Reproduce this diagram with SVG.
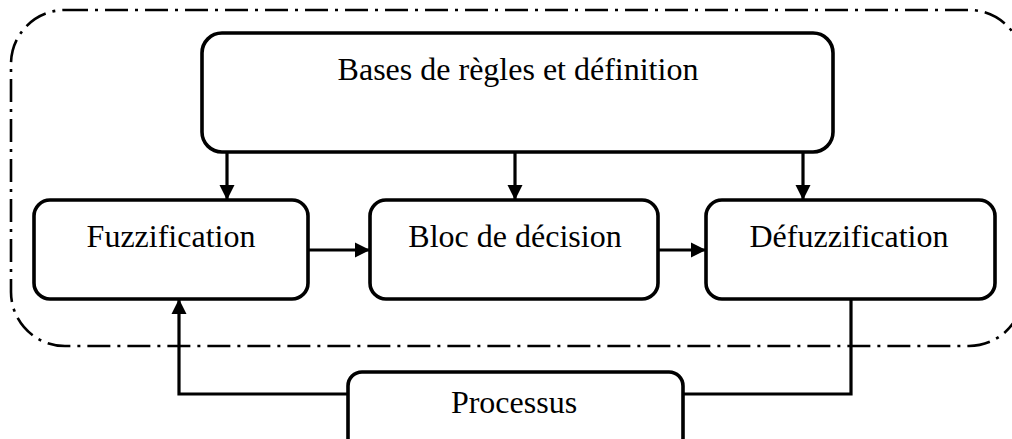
<svg xmlns="http://www.w3.org/2000/svg" width="1012" height="439" viewBox="0 0 1012 439">
<style>
.box{fill:#fff;stroke:#000;stroke-width:3.6}
.lbl{font-family:"Liberation Serif","Times New Roman",serif;font-size:32px;fill:#000;text-anchor:middle}
.con{fill:none;stroke:#000;stroke-width:3.2}
.frame{fill:none;stroke:#000;stroke-width:2.6;stroke-dasharray:23 7 3 7}
</style>
<defs>
<marker id="ah" viewBox="0 0 10 10" refX="10" refY="5" markerWidth="4.8" markerHeight="4.8" markerUnits="strokeWidth" orient="auto">
<path d="M0,0 L10,5 L0,10 z" fill="#000"/>
</marker>
</defs>
<rect class="frame" x="11" y="10" width="1012" height="336" rx="54" ry="54"/>
<g id="bases"><rect class="box" x="202" y="33" width="631" height="119" rx="20"/><text class="lbl" x="518" y="80">Bases de règles et définition</text></g>
<g id="fuzz"><rect class="box" x="34" y="200" width="274" height="99" rx="16"/><text class="lbl" x="171" y="247">Fuzzification</text></g>
<g id="bloc"><rect class="box" x="370" y="200" width="288" height="99" rx="16"/><text class="lbl" x="515" y="247">Bloc de décision</text></g>
<g id="defuzz"><rect class="box" x="706" y="200" width="289" height="99" rx="16"/><text class="lbl" x="849" y="247">Défuzzification</text></g>
<g id="proc"><rect class="box" x="348" y="372" width="335" height="80" rx="14"/><text class="lbl" x="514" y="413">Processus</text></g>
<g id="connectors">
<path class="con" d="M227,152 V200" marker-end="url(#ah)"/>
<path class="con" d="M515,152 V200" marker-end="url(#ah)"/>
<path class="con" d="M803,152 V200" marker-end="url(#ah)"/>
<path class="con" d="M308,250 H370" marker-end="url(#ah)"/>
<path class="con" d="M658,250 H706" marker-end="url(#ah)"/>
<path class="con" d="M348,394 H179 V299" marker-end="url(#ah)"/>
<path class="con" d="M851,299 V394 H683"/>
</g>
</svg>
